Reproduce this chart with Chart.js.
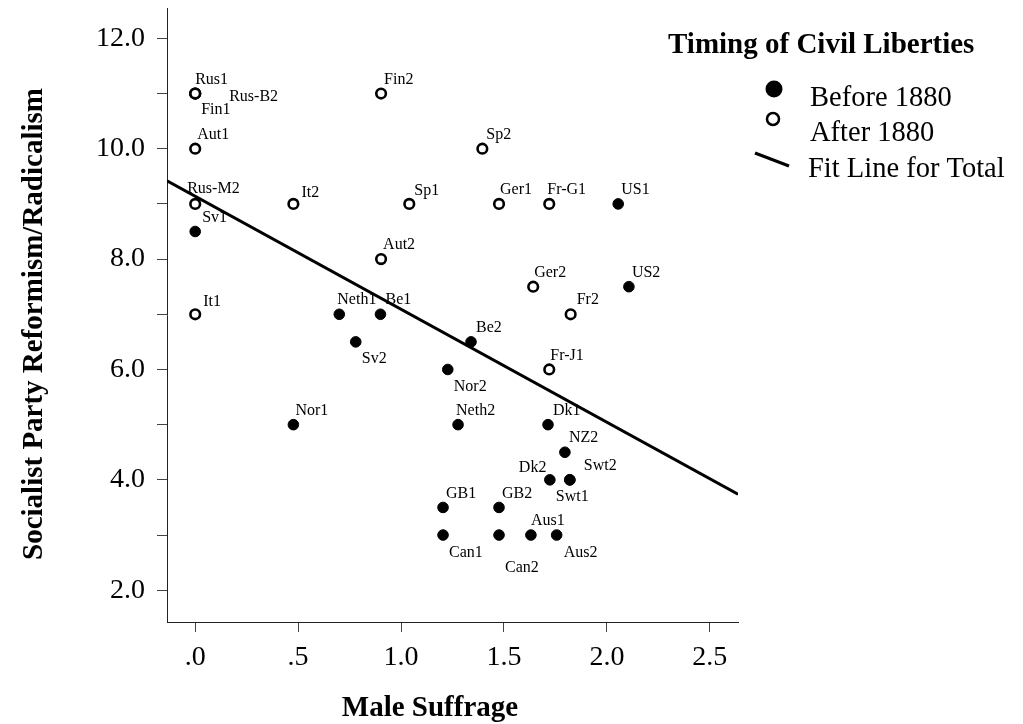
<!DOCTYPE html>
<html>
<head>
<meta charset="utf-8">
<script src="https://cdn.jsdelivr.net/npm/chart.js@4.4.1/dist/chart.umd.min.js"></script>
<style>
  html, body { margin: 0; padding: 0; background: #ffffff; }
  #c { display: block; }
</style>
</head>
<body>
<canvas id="c" width="1023" height="724"></canvas>
<script>
// ---------------- DATA ----------------
const beforeNames = ['US1','US2','Sv1','Neth1','Be1','Sv2','Be2','Nor2','Nor1','Neth2','Dk1','NZ2','Dk2','Swt1','Swt2','GB1','GB2','Can1','Can2','Aus1','Aus2'];
const beforeX = [2.055, 2.107, 0.0, 0.70, 0.90, 0.78, 1.34, 1.227, 0.477, 1.277, 1.714, 1.796, 1.723, 1.82, 1.82, 1.204, 1.476, 1.204, 1.476, 1.631, 1.756];
const beforeY = [9.0, 7.5, 8.5, 7.0, 7.0, 6.5, 6.5, 6.0, 5.0, 5.0, 5.0, 4.5, 4.0, 4.0, 4.0, 3.5, 3.5, 3.0, 3.0, 3.0, 3.0];

const afterNames = ['Rus1','Fin1','Rus-B2','Aut1','Rus-M2','It1','It2','Fin2','Sp2','Sp1','Ger1','Fr-G1','Aut2','Ger2','Fr2','Fr-J1'];
const afterX = [0.0, 0.0, 0.0, 0.0, 0.0, 0.0, 0.477, 0.903, 1.395, 1.04, 1.476, 1.72, 0.903, 1.642, 1.824, 1.72];
const afterY = [11.0, 11.0, 11.0, 10.0, 9.0, 7.0, 9.0, 11.0, 10.0, 9.0, 9.0, 9.0, 8.0, 7.5, 7.0, 6.0];

// fit line end points (read at the axis edges)
const fitX = [-0.137, 2.637];
const fitY = [9.42, 3.74];

const xTickValues = [0, 0.5, 1.0, 1.5, 2.0, 2.5];
const xTickLabels = ['.0', '.5', '1.0', '1.5', '2.0', '2.5'];
const yTickValues = [2, 3, 4, 5, 6, 7, 8, 9, 10, 11, 12];
const yTickLabels = ['2.0', '', '4.0', '', '6.0', '', '8.0', '', '10.0', '', '12.0'];

const xAxisRange = [-0.137, 2.637];
const yAxisRange = [1.424, 12.55];

const legendTitle = 'Timing of Civil Liberties';
const legendLabels = ['Before 1880', 'After 1880', 'Fit Line for Total'];
const xTitle = 'Male Suffrage';
const yTitle = 'Socialist Party Reformism/Radicalism';

// ---------------- LAYOUT / STYLE ----------------
const FONT = "'Liberation Serif', 'Times New Roman', Times, serif";
// label offsets (px) from point centre: [dx to text left, dy to text middle]
const labelOffsets = {
  'Rus1': [0, -14], 'Fin1': [6, 16], 'Rus-B2': [34, 3], 'Aut1': [2, -14], 'Rus-M2': [-8, -15],
  'It1': [8, -12], 'It2': [8, -11], 'Fin2': [3, -14], 'Sp2': [4, -14], 'Sp1': [5, -13],
  'Ger1': [1, -14], 'Fr-G1': [-2, -14], 'Aut2': [2, -14], 'Ger2': [1, -14], 'Fr2': [6, -14],
  'Fr-J1': [1, -14], 'US1': [3, -14], 'US2': [3, -14], 'Sv1': [7, -14], 'Neth1': [-2, -14],
  'Be1': [5, -14], 'Sv2': [6, 17], 'Be2': [5, -14], 'Nor2': [6, 17], 'Nor1': [2, -14],
  'Neth2': [-2, -14], 'Dk1': [5, -14], 'NZ2': [4, -14], 'Dk2': [-31, -12], 'Swt1': [-14, 17],
  'Swt2': [14, -14], 'GB1': [3, -14], 'GB2': [3, -14], 'Can1': [6, 18], 'Can2': [6, 33],
  'Aus1': [0, -14], 'Aus2': [7, 18]
};

function pts(xs, ys) { return xs.map((x, i) => ({ x: x, y: ys[i] })); }

const labelPlugin = {
  id: 'pointLabels',
  afterDatasetsDraw(chart) {
    const ctx = chart.ctx;
    ctx.save();
    ctx.fillStyle = '#000';
    ctx.font = '16px ' + FONT;
    ctx.textAlign = 'left';
    ctx.textBaseline = 'middle';
    chart.data.datasets.forEach((ds, di) => {
      if (!ds.names) return;
      const meta = chart.getDatasetMeta(di);
      meta.data.forEach((el, i) => {
        const name = ds.names[i];
        const off = labelOffsets[name] || [4, -14];
        ctx.fillText(name, el.x + off[0], el.y + off[1]);
      });
    });
    ctx.restore();
  },
  afterDraw(chart) {
    const ctx = chart.ctx;
    ctx.save();
    ctx.fillStyle = '#000';
    ctx.strokeStyle = '#000';
    // axis titles
    ctx.font = 'bold 29px ' + FONT;
    ctx.textAlign = 'center';
    ctx.textBaseline = 'alphabetic';
    ctx.fillText(xTitle, 430, 716);
    ctx.save();
    ctx.translate(42, 324);
    ctx.rotate(-Math.PI / 2);
    ctx.fillText(yTitle, 0, 0);
    ctx.restore();
    // legend
    ctx.textAlign = 'left';
    ctx.font = 'bold 29px ' + FONT;
    ctx.fillText(legendTitle, 668, 53);
    ctx.font = '28.5px ' + FONT;
    // filled marker
    ctx.beginPath();
    ctx.arc(774, 89, 8.5, 0, Math.PI * 2);
    ctx.fill();
    ctx.fillText(legendLabels[0], 810, 106);
    // open marker
    ctx.beginPath();
    ctx.lineWidth = 2.5;
    ctx.arc(773, 119, 6, 0, Math.PI * 2);
    ctx.stroke();
    ctx.fillText(legendLabels[1], 810, 141);
    // line
    ctx.beginPath();
    ctx.lineWidth = 3;
    ctx.moveTo(755, 153);
    ctx.lineTo(789, 166);
    ctx.stroke();
    ctx.fillText(legendLabels[2], 808, 177);
    ctx.restore();
  }
};

new Chart(document.getElementById('c'), {
  type: 'scatter',
  data: {
    datasets: [
      {
        label: legendLabels[0],
        names: beforeNames,
        data: pts(beforeX, beforeY),
        pointRadius: 5.3,
        pointBorderWidth: 1,
        pointBackgroundColor: '#000',
        pointBorderColor: '#000',
        order: 1
      },
      {
        label: legendLabels[1],
        names: afterNames,
        data: pts(afterX, afterY),
        pointRadius: 4.8,
        pointBorderWidth: 2.6,
        pointBackgroundColor: '#fff',
        pointBorderColor: '#000',
        order: 0
      },
      {
        type: 'line',
        label: legendLabels[2],
        data: pts(fitX, fitY),
        borderColor: '#000',
        borderWidth: 3,
        pointRadius: 0,
        fill: false,
        order: 2
      }
    ]
  },
  options: {
    responsive: false,
    animation: false,
    devicePixelRatio: 1,
    layout: { padding: { top: 8, right: 285, left: 0, bottom: 0 } },
    plugins: { legend: { display: false }, tooltip: { enabled: false } },
    scales: {
      x: {
        type: 'linear',
        position: 'bottom',
        min: xAxisRange[0],
        max: xAxisRange[1],
        afterBuildTicks: (s) => { s.ticks = xTickValues.map(v => ({ value: v })); },
        afterFit: (s) => { s.height = 102; },
        grid: { drawOnChartArea: false, drawTicks: true, tickLength: 10, color: '#444', lineWidth: 1 },
        border: { display: true, color: '#222', width: 1 },
        ticks: {
          autoSkip: false, maxRotation: 0, padding: 9, color: '#000',
          font: { family: FONT, size: 28 },
          callback: (v, i) => xTickLabels[i]
        }
      },
      y: {
        type: 'linear',
        min: yAxisRange[0],
        max: yAxisRange[1],
        afterBuildTicks: (s) => { s.ticks = yTickValues.map(v => ({ value: v })); },
        afterFit: (s) => { s.width = 167; s.paddingTop = 0; s.paddingBottom = 0; },
        grid: { drawOnChartArea: false, drawTicks: true, tickLength: 10, color: '#444', lineWidth: 1 },
        border: { display: true, color: '#222', width: 1 },
        ticks: {
          autoSkip: false, padding: 12, color: '#000',
          font: { family: FONT, size: 28 },
          callback: (v, i) => yTickLabels[i]
        }
      }
    }
  },
  plugins: [labelPlugin]
});
</script>
</body>
</html>
